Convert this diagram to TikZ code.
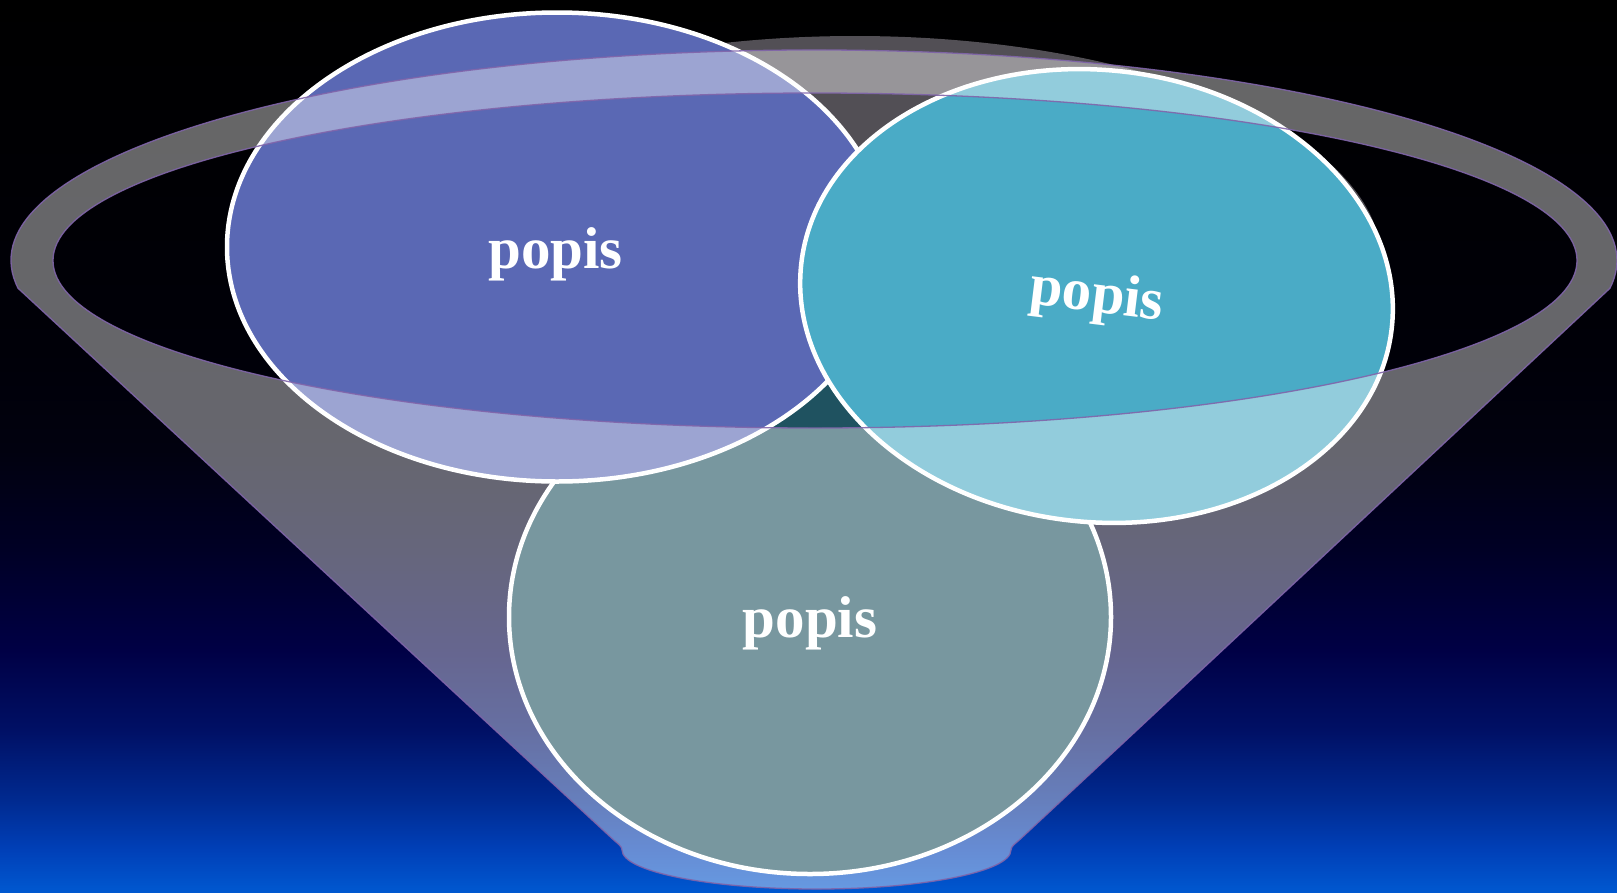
\documentclass[tikz,border=0pt]{standalone}
\usepackage{fontspec}
\setmainfont{Liberation Serif}
\definecolor{bgA}{RGB}{0,0,0}
\definecolor{bgB}{RGB}{0,0,8}
\definecolor{bgC}{RGB}{1,1,15}
\definecolor{bgD}{RGB}{0,0,37}
\definecolor{bgE}{RGB}{0,0,69}
\definecolor{bgF}{RGB}{0,16,101}
\definecolor{bgG}{RGB}{0,42,144}
\definecolor{bgH}{RGB}{0,64,184}
\definecolor{bgI}{RGB}{0,88,208}
\definecolor{blueC}{RGB}{90,104,180}
\definecolor{cyanC}{RGB}{74,171,198}
\definecolor{tealC}{RGB}{31,82,96}
\definecolor{darkC}{RGB}{82,79,85}
\definecolor{rimline}{RGB}{128,100,170}
\pgfdeclareverticalshading{bgshade}{100bp}{color(0bp)=(bgI); color(25bp)=(bgI); color(27.35bp)=(bgH); color(30.16bp)=(bgG); color(34.08bp)=(bgF); color(38.57bp)=(bgE); color(44.17bp)=(bgD); color(49.78bp)=(bgC); color(55.38bp)=(bgB); color(75bp)=(bgA); color(100bp)=(bgA)}
\tikzset{
  bubble/.style={draw=white, line width=4.5},
  funnelbody/.style={fill=white, fill opacity=0.4, draw=rimline, draw opacity=0.9, line width=1.3, even odd rule},
  lbl/.style={text=white, font=\fontsize{59}{59}\selectfont\bfseries, inner sep=0pt, anchor=base}
}
\begin{document}
\begin{tikzpicture}[x=1pt,y=-1pt]
\useasboundingbox (0,0) rectangle (1617,892);
\fill[shading=bgshade] (0,0) rectangle (1617,892);
% dark back shape
\fill[darkC] (855,260) ellipse[x radius=526, y radius=224];
% bottom circle
\filldraw[bubble, fill=tealC] (810,617) ellipse[x radius=301, y radius=257];
% blue circle
\filldraw[bubble, fill=blueC] (557,247) ellipse[x radius=330, y radius=234.5];
% cyan circle
\filldraw[bubble, fill=cyanC, rotate around={-6:(1096.5,296)}] (1096.5,296) ellipse[x radius=297, y radius=226];
% funnel
\path[funnelbody] (18.1,288.3) arc[start angle=172.4, end angle=367.6, x radius=803, y radius=210.5]
  -- (1021,838.4) .. controls (1015,844) and (1011,846) .. (1011,850)
  arc[start angle=0, end angle=180, x radius=194.5, y radius=39]
  .. controls (622,846) and (618,844) .. (612,838.4) -- cycle
  (815,260.5) ellipse[x radius=762, y radius=167.5];
% labels
\node[lbl] (t1) at (555.5,268) {popis};
\node[lbl, rotate=-7] (t2) at (1095,312) {popis};
\node[lbl] (t3) at (810,637) {popis};
\end{tikzpicture}
\end{document}
